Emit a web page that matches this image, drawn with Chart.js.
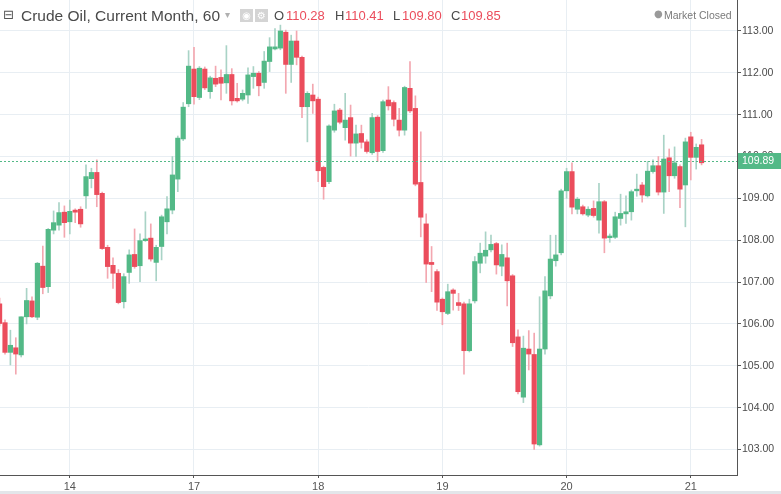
<!DOCTYPE html>
<html><head><meta charset="utf-8">
<script src="https://cdn.jsdelivr.net/npm/chart.js@4/dist/chart.umd.min.js"></script>
<style>
html,body{margin:0;padding:0;background:#fff;}
#wrap{position:relative;width:781px;height:494px;overflow:hidden;font-family:"Liberation Sans",Arial,sans-serif;color:#4a4a4a;}
#cv{position:absolute;left:0;top:0;width:781px;height:494px;}
.t{position:absolute;white-space:nowrap;line-height:1;}
.ic{position:absolute;top:9px;width:13px;height:13px;background:#d4d4d4;color:#fff;font-size:10px;line-height:13px;text-align:center;font-family:"DejaVu Sans",sans-serif;}
#strip{position:absolute;left:0;top:491px;width:781px;height:3px;background:#e3e6ea;}
</style></head><body>
<div id="wrap">
<div id="cv"><canvas id="c"></canvas></div>
<span class="t" style="left:3px;top:8px;font-size:13px;font-family:'DejaVu Sans',sans-serif;color:#555;">⊟</span>
<span class="t" style="left:21px;top:8px;font-size:15.5px;color:#4a4a4a;">Crude Oil, Current Month, 60</span>
<span class="t" style="left:225px;top:10px;font-size:10px;color:#b0b0b0;font-family:'DejaVu Sans',sans-serif;">▾</span>
<span class="ic" style="left:240px;">◉</span>
<span class="ic" style="left:255px;">⚙</span>
<span class="t" style="left:274px;top:9px;font-size:13px;color:#4a4a4a;">O</span>
<span class="t" style="left:286px;top:9px;font-size:13px;color:#eb4d5c;">110.28</span>
<span class="t" style="left:335px;top:9px;font-size:13px;color:#4a4a4a;">H</span>
<span class="t" style="left:345px;top:9px;font-size:13px;color:#eb4d5c;">110.41</span>
<span class="t" style="left:393px;top:9px;font-size:13px;color:#4a4a4a;">L</span>
<span class="t" style="left:402px;top:9px;font-size:13px;color:#eb4d5c;">109.80</span>
<span class="t" style="left:451px;top:9px;font-size:13px;color:#4a4a4a;">C</span>
<span class="t" style="left:461px;top:9px;font-size:13px;color:#eb4d5c;">109.85</span>
<span class="t" style="left:654px;top:9px;font-size:10px;color:#9a9a9a;font-family:'DejaVu Sans',sans-serif;">●</span>
<span class="t" style="left:664px;top:10px;font-size:10.5px;color:#7a7a7a;">Market Closed</span>
<div id="strip"></div>
</div>
<script>
const openP = [106.48,106.03,105.32,105.43,105.26,106.17,106.55,106.16,107.38,106.89,
 108.24,108.36,108.67,108.44,108.72,108.74,109.06,109.47,109.62,109.12,
 107.83,107.40,107.21,106.53,107.23,107.66,107.39,107.99,108.05,107.47,
 107.85,108.44,108.72,109.46,110.42,111.26,112.09,111.41,112.09,111.55,
 111.87,111.89,111.76,111.96,111.39,111.37,111.47,111.91,111.99,111.77,
 112.27,112.57,112.59,112.97,112.20,112.76,112.37,111.19,111.47,111.37,
 109.74,109.40,110.63,111.11,110.69,110.93,110.32,110.55,110.35,110.09,
 110.94,110.14,111.35,111.29,110.87,110.63,111.63,111.15,109.38,108.39,
 107.47,107.25,106.59,106.25,106.81,106.51,106.48,105.36,106.55,107.45,
 107.62,107.77,107.92,107.38,107.58,107.15,105.69,104.25,105.40,105.27,
 103.11,105.40,106.67,107.51,107.70,109.18,109.64,108.74,108.80,108.60,
 108.76,108.48,108.92,108.06,108.07,108.52,108.63,108.68,109.18,109.32,
 109.06,109.64,109.78,109.15,109.97,109.54,109.76,109.32,110.47,109.98,
 110.28];
const highP = [106.62,106.10,105.85,105.67,106.17,106.85,106.65,107.47,107.86,108.28,
 108.70,108.90,108.82,108.96,108.75,108.80,109.80,109.72,109.92,109.15,
 107.88,107.58,107.30,107.20,107.77,108.27,108.15,108.68,108.39,107.88,
 108.60,109.04,110.00,110.49,111.29,112.53,112.61,112.15,112.14,111.92,
 112.16,112.07,112.65,112.10,111.75,111.59,112.12,112.15,112.03,112.51,
 112.84,113.06,113.14,113.02,112.90,113.00,112.40,111.55,111.73,111.42,
 109.77,110.76,111.25,111.15,111.51,111.23,110.75,110.75,110.40,111.03,
 110.98,111.35,111.67,111.33,111.15,111.68,112.27,111.45,110.59,108.63,
 107.85,107.30,106.62,106.95,106.84,106.73,106.52,106.59,107.61,107.93,
 108.20,108.12,107.95,107.89,107.93,107.18,105.86,105.71,105.84,105.78,
 106.65,107.13,108.12,108.12,109.22,109.72,109.85,109.02,108.84,108.80,
 108.94,109.36,108.95,108.15,108.67,109.10,109.06,109.20,109.58,109.38,
 109.88,109.92,110.00,110.51,110.18,110.23,109.80,110.44,110.58,110.30,
 110.41];
const lowP = [105.95,105.28,105.02,104.80,105.21,106.00,106.15,106.10,106.72,106.75,
 108.15,108.24,108.07,108.15,108.42,108.31,108.76,109.25,108.80,107.78,
 107.09,106.85,106.48,106.38,106.97,107.33,107.01,107.97,107.50,107.03,
 107.53,108.15,108.63,109.16,110.38,111.19,111.25,111.36,111.60,111.39,
 111.67,111.35,111.51,111.23,111.30,111.33,111.27,111.63,111.45,111.63,
 112.03,112.55,112.55,111.51,111.77,112.19,110.93,110.35,111.03,109.40,
 108.98,109.35,110.58,110.78,110.39,110.01,110.00,110.20,110.08,110.05,
 109.88,110.10,111.11,110.73,110.49,110.51,111.05,109.30,108.08,106.99,
 106.77,106.32,105.98,106.22,106.33,106.32,104.80,105.33,106.50,107.22,
 107.45,107.72,107.19,107.15,106.43,105.46,104.33,104.12,104.90,103.00,
 103.08,105.28,106.60,107.38,107.65,109.00,108.63,108.63,108.60,108.56,
 108.55,108.17,107.70,107.95,108.04,108.36,108.40,108.48,109.05,108.91,
 109.03,109.60,109.08,108.64,109.16,109.48,108.78,108.32,109.44,109.70,
 109.80];
const closeP = [106.01,105.32,105.49,105.28,106.17,106.56,106.17,107.45,106.87,108.26,
 108.42,108.66,108.42,108.69,108.67,108.39,109.52,109.62,109.09,107.80,
 107.37,107.21,106.51,107.13,107.65,107.37,107.99,108.03,107.55,107.83,
 108.56,108.75,109.56,110.44,111.18,112.16,111.43,112.11,111.64,111.88,
 111.73,111.75,111.96,111.33,111.33,111.51,111.95,111.99,111.69,112.28,
 112.62,112.62,113.00,112.20,112.76,112.37,111.19,111.51,111.33,109.66,
 109.28,110.73,111.09,110.82,110.87,110.32,110.54,110.34,110.12,110.93,
 110.12,111.31,111.21,110.89,110.63,111.65,111.09,109.34,108.55,107.43,
 107.42,106.52,106.29,106.77,106.73,106.44,105.36,106.48,107.49,107.69,
 107.76,107.90,107.41,107.66,107.03,105.55,104.38,105.42,105.28,103.13,
 105.40,106.79,107.55,107.65,109.18,109.64,108.79,108.98,108.63,108.74,
 108.59,108.92,108.05,108.10,108.56,108.64,108.68,109.16,109.22,109.08,
 109.65,109.78,109.15,109.94,109.54,109.85,109.22,110.35,109.98,110.22,
 109.85];
const dayTickIndex = [13, 36, 59, 82, 105, 128];
const dayTickLabels = ['14', '17', '18', '19', '20', '21'];
const priceTicks = [103, 104, 105, 106, 107, 108, 109, 110, 111, 112, 113];
const lastPrice = 109.89;

const UP = '#53b987', DOWN = '#eb4d5c';
const UP_WICK = '#a9d3c6', DOWN_WICK = '#f3a7b0';
const isUp = i => closeP[i] >= openP[i];

const bodies = openP.map((o, i) => ({x: i, y: [o, closeP[i]]}));
const wicks = lowP.map((l, i) => ({x: i, y: [l, highP[i]]}));

const lastPricePlugin = {
  id: 'lastPrice',
  afterDatasetsDraw(chart) {
    const {ctx, chartArea: a, scales: {y}} = chart;
    const py = Math.round(y.getPixelForValue(lastPrice)) + 0.5;
    ctx.save();
    ctx.strokeStyle = UP; ctx.lineWidth = 1; ctx.setLineDash([2, 2]);
    ctx.beginPath(); ctx.moveTo(a.left, py); ctx.lineTo(a.right, py); ctx.stroke();
    ctx.restore();
  },
  afterDraw(chart) {
    const {ctx, scales: {y}} = chart;
    const py = Math.round(y.getPixelForValue(lastPrice));
    ctx.save();
    ctx.fillStyle = UP;
    ctx.fillRect(y.left + 1, py - 8, chart.width - y.left - 1, 16);
    ctx.fillStyle = '#fff';
    ctx.font = '10.5px "Liberation Sans", Arial, sans-serif';
    ctx.textBaseline = 'middle'; ctx.textAlign = 'left';
    ctx.fillText(lastPrice.toFixed(2), y.left + 5, py + 0.5);
    ctx.restore();
  }
};

new Chart(document.getElementById('c'), {
  type: 'bar',
  data: {
    datasets: [
      {data: bodies, grouped: false, barThickness: 4.5, minBarLength: 1, borderWidth: 0,
       backgroundColor: ctx => (ctx.dataIndex === undefined || isUp(ctx.dataIndex)) ? UP : DOWN},
      {data: wicks, grouped: false, barThickness: 1, borderWidth: 0,
       backgroundColor: ctx => (ctx.dataIndex === undefined || isUp(ctx.dataIndex)) ? UP_WICK : DOWN_WICK}
    ]
  },
  options: {
    responsive: true, maintainAspectRatio: false, animation: false,
    layout: {padding: 0},
    plugins: {legend: {display: false}, tooltip: {enabled: false}},
    scales: {
      x: {
        type: 'linear', min: 0.074, max: 136.56, offset: false,
        grid: {color: '#e8eef3', offset: false, drawTicks: true, tickLength: 3, tickColor: '#555'},
        border: {color: '#555'},
        afterBuildTicks: s => { s.ticks = dayTickIndex.map(v => ({value: v})); },
        afterFit: s => { s.height = 19; s.paddingLeft = 0; s.paddingRight = 0; },
        ticks: {
          autoSkip: false, maxRotation: 0, padding: 2, color: '#555',
          font: {family: '"Liberation Sans", Arial, sans-serif', size: 11},
          callback: v => { const k = dayTickIndex.indexOf(v); return k >= 0 ? dayTickLabels[k] : ''; }
        }
      },
      y: {
        type: 'linear', position: 'right', min: 102.39, max: 113.74,
        grid: {color: '#e8eef3', drawTicks: true, tickLength: 4, tickColor: '#555'},
        border: {color: '#555'},
        afterBuildTicks: s => { s.ticks = priceTicks.map(v => ({value: v})); },
        afterFit: s => { s.width = 44; s.paddingTop = 0; s.paddingBottom = 0; },
        ticks: {
          padding: 1, color: '#4a4a4a',
          font: {family: '"Liberation Sans", Arial, sans-serif', size: 10.5},
          callback: v => Number(v).toFixed(2)
        }
      }
    }
  },
  plugins: [lastPricePlugin]
});
</script>
</body></html>
